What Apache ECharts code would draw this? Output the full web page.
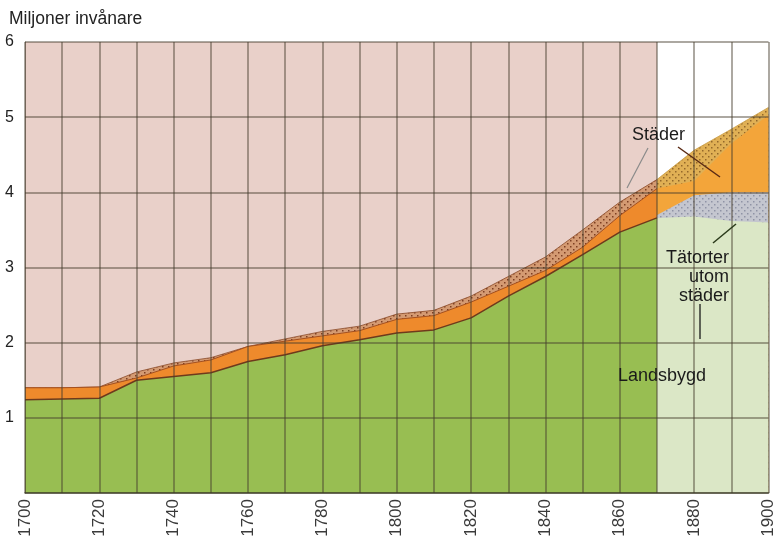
<!DOCTYPE html>
<html>
<head>
<meta charset="utf-8">
<script src="https://cdn.jsdelivr.net/npm/echarts@6/dist/echarts.min.js"></script>
<style>
html,body{margin:0;padding:0;background:#fff;}
#c{width:777px;height:541px;}
</style>
</head>
<body>
<div id="c"></div>
<script>
// ---- data (millions of inhabitants) ----
const years      = [1700,1710,1720,1730,1740,1750,1760,1770,1780,1790,1800,1810,1820,1830,1840,1850,1860,1870,1880,1890,1900];
const landsbygd  = [1.24,1.25,1.26,1.50,1.55,1.60,1.75,1.84,1.96,2.04,2.13,2.17,2.33,2.62,2.88,3.17,3.47,3.66,3.68,3.62,3.60];
const tatorter   = [0,0,0,0,0,0,0,0,0,0,0,0,0,0,0,0,0,0.04,0.28,0.38,0.40];
const stader     = [0.16,0.15,0.15,0.03,0.14,0.17,0.20,0.18,0.13,0.12,0.18,0.19,0.21,0.13,0.08,0.10,0.22,0.35,0.19,0.65,1.03];
const osakert    = [0,0,0,0.08,0.04,0.03,0,0.03,0.06,0.06,0.07,0.07,0.08,0.13,0.18,0.23,0.18,0.12,0.41,0.19,0.10];
const eraSplit   = 1870;
const yTicks     = [0,1,2,3,4,5,6];
const xLabelYears= [1700,1720,1740,1760,1780,1800,1820,1840,1860,1880,1900];

// ---- cumulative stacks ----
const cumL = landsbygd.slice();
const cumT = cumL.map((v,i)=>v+tatorter[i]);
const cumS = cumT.map((v,i)=>v+stader[i]);
const cumH = cumS.map((v,i)=>v+osakert[i]);
const pre  = arr => years.map((y,i)=>[y,+arr[i].toFixed(3)]).filter(p=>p[0]<=eraSplit);
const post = arr => years.map((y,i)=>[y,+arr[i].toFixed(3)]).filter(p=>p[0]>=eraSplit);

function pattern(bg, dot, step, dotSize){
  const c=document.createElement('canvas');
  c.width=step*2; c.height=step*2;
  const g=c.getContext('2d');
  g.fillStyle=bg; g.fillRect(0,0,c.width,c.height);
  g.fillStyle=dot;
  g.fillRect(0,0,dotSize,dotSize);
  g.fillRect(step,step,dotSize,dotSize);
  return {image:c, repeat:'repeat'};
}
const brownHatch = pattern('#d49a72','#7d3f22',3,1.5);
const goldHatch  = pattern('#e0b055','#94682a',3,1.5);
const grayHatch  = pattern('#c4c6cf','#8f93a6',3,1.5);

const FONT = '"Liberation Sans", Arial, Helvetica, sans-serif';
const chart = echarts.init(document.getElementById('c'), null, {renderer:'canvas'});

function area(name, data, fill, line, lw, z){
  return {name, type:'line', data, symbol:'none', z, silent:true, animation:false,
    lineStyle:{color:line, width:lw}, areaStyle:{color:fill, opacity:1}};
}
const txt = (text, pos) => Object.assign({type:'text', z:20,
  style:{text, font:'18px '+FONT, fill:'#1a1a1a'}}, pos);

chart.setOption({
  animation:false,
  backgroundColor:'#ffffff',
  grid:{left:25, right:2, top:42, bottom:48},
  title:{text:'Miljoner invånare', left:4, top:5,
    textStyle:{fontFamily:FONT, fontSize:17.5, fontWeight:'normal', color:'#222'}},
  xAxis:{type:'value', min:1700, max:1900, interval:10, z:10,
    axisLine:{show:true, lineStyle:{color:'rgba(60,60,40,0.8)', width:1.5}},
    axisTick:{show:false},
    splitLine:{show:true, lineStyle:{color:'rgba(70,60,45,0.6)', width:1.5}},
    axisLabel:{rotate:90, fontFamily:FONT, fontSize:17, color:'#3a3a3a', margin:6,
      showMinLabel:true, showMaxLabel:true,
      formatter:v=> xLabelYears.includes(v) ? String(v) : ''}},
  yAxis:{type:'value', min:yTicks[0], max:yTicks[yTicks.length-1], interval:1, z:10,
    axisLine:{show:true, lineStyle:{color:'rgba(70,60,45,0.5)', width:1}},
    axisTick:{show:false},
    splitLine:{show:true, lineStyle:{color:'rgba(70,60,45,0.6)', width:1.5}},
    axisLabel:{fontFamily:FONT, fontSize:16, color:'#222', margin:11,
      formatter:v=> v===0 ? '' : String(v)}},
  series:[
    {type:'line', data:[], z:0, silent:true,
      markArea:{silent:true, itemStyle:{color:'#e9d0c9'},
        data:[[{xAxis:years[0], yAxis:yTicks[0]},{xAxis:eraSplit, yAxis:yTicks[yTicks.length-1]}]]}},
    area('Osäkert före', pre(cumH),  brownHatch, '#8a4a28', 0.8, 2),
    area('Osäkert efter', post(cumH), goldHatch, '#c99a40', 0.8, 2),
    area('Städer före',  pre(cumS),  '#ee8a2c', '#a5501f', 1, 3),
    area('Städer efter', post(cumS), '#f3a53a', '#f3a53a', 0, 3),
    area('Tätorter', post(cumT), grayHatch, '#b8bcc8', 0, 4),
    area('Landsbygd före', pre(cumL), '#98be52', '#6e3a1c', 1.5, 5),
    area('Landsbygd efter', post(cumL), '#dbe7c6', '#c9d8b0', 0, 5)
  ],
  graphic:[
    txt('Städer', {left:632, top:126}),
    {type:'line', z:20, shape:{x1:648,y1:148,x2:627,y2:188}, style:{stroke:'#8a8a8a', lineWidth:1.2}},
    {type:'line', z:20, shape:{x1:678,y1:147,x2:720,y2:177}, style:{stroke:'#5a2a14', lineWidth:1.5}},
    txt('Tätorter', {right:48, top:249}),
    txt('utom',     {right:48, top:268}),
    txt('städer',   {right:48, top:287}),
    {type:'line', z:20, shape:{x1:713,y1:243,x2:736,y2:224}, style:{stroke:'#2a3a1a', lineWidth:1.5}},
    {type:'line', z:20, shape:{x1:700,y1:304,x2:700,y2:339}, style:{stroke:'#1a1a1a', lineWidth:1.3}},
    txt('Landsbygd', {left:618, top:367})
  ]
});
</script>
</body>
</html>
